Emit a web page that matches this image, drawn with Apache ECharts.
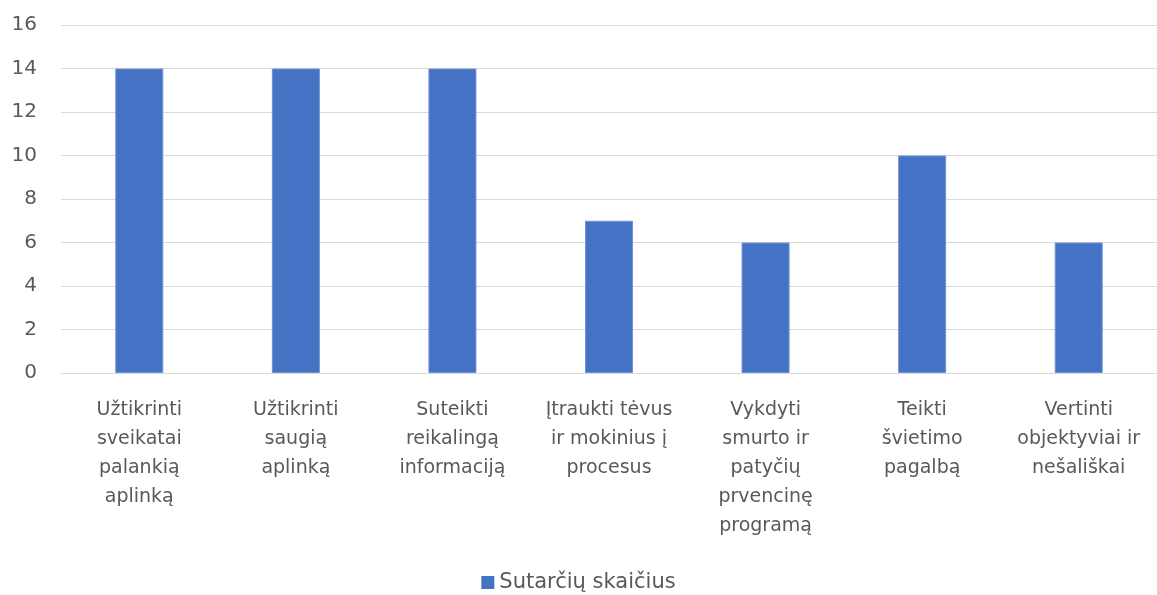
<!DOCTYPE html>
<html>
<head>
<meta charset="utf-8">
<script src="https://cdn.jsdelivr.net/npm/echarts@6/dist/echarts.min.js"></script>
<style>
  html, body { margin: 0; padding: 0; background: #fff; }
  #chart { width: 1157px; height: 595px; }
</style>
</head>
<body>
<div id="chart"></div>
<script>
const categories = [
  'Užtikrinti\nsveikatai\npalankią\naplinką',
  'Užtikrinti\nsaugią\naplinką',
  'Suteikti\nreikalingą\ninformaciją',
  'Įtraukti tėvus\nir mokinius į\nprocesus',
  'Vykdyti\nsmurto ir\npatyčių\nprvencinę\nprogramą',
  'Teikti\nšvietimo\npagalbą',
  'Vertinti\nobjektyviai ir\nnešališkai'
];
const seriesName = 'Sutarčių skaičius';
const values = [14, 14, 14, 7, 6, 10, 6];

const font = '"DejaVu Sans", sans-serif';
const textColor = '#595959';

const chart = echarts.init(document.getElementById('chart'));

chart.setOption({
  animation: false,
  grid: {
    left: 61,
    right: -2,
    top: 25,
    bottom: 222
  },
  legend: {
    top: 567,
    left: 'center',
    itemWidth: 13,
    itemHeight: 13,
    itemGap: 10,
    icon: 'rect',
    itemStyle: { borderWidth: 0 },
    textStyle: { color: textColor, fontSize: 21, fontFamily: font },
    data: [seriesName]
  },
  xAxis: {
    type: 'category',
    data: categories,
    axisLine: { show: true, lineStyle: { color: '#d9d9d9', width: 1 } },
    axisTick: { show: false },
    axisLabel: {
      color: textColor,
      fontSize: 19,
      fontFamily: font,
      lineHeight: 29,
      margin: 23,
      interval: 0
    }
  },
  yAxis: {
    type: 'value',
    min: 0,
    max: 16,
    interval: 2,
    axisLine: { show: false },
    axisTick: { show: false },
    axisLabel: {
      color: textColor,
      fontSize: 20,
      fontFamily: font,
      margin: 24
    },
    splitLine: { lineStyle: { color: '#d9d9d9', width: 1 } }
  },
  series: [{
    name: seriesName,
    type: 'bar',
    data: values,
    barWidth: 48,
    itemStyle: {
      color: '#4472C4',
      borderColor: '#6f93d6',
      borderWidth: 1
    }
  }]
});
</script>
</body>
</html>
